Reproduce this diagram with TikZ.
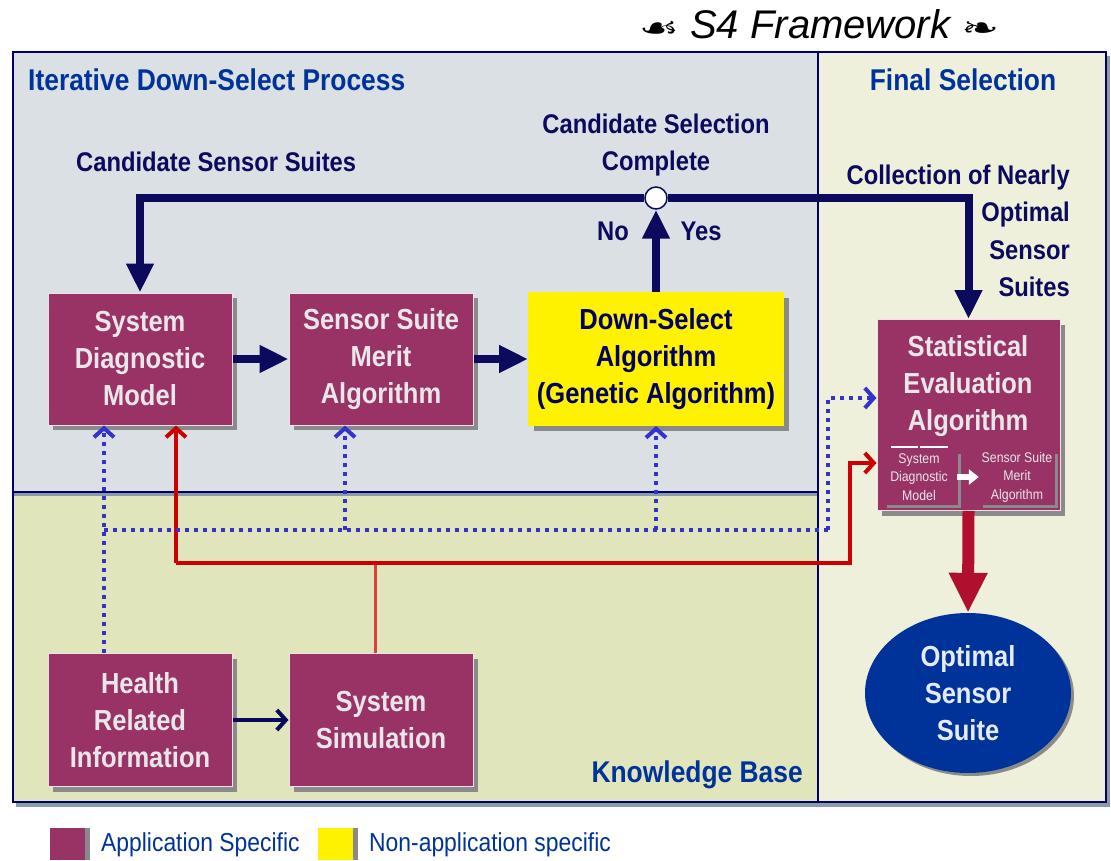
\documentclass[tikz,border=0pt]{standalone}
\usepackage{fontspec}
\setmainfont{Liberation Sans}
\newfontfamily\nf[FakeStretch=0.88]{Liberation Sans}
\newfontfamily\orn[FakeStretch=1.5]{DejaVu Sans}
\usetikzlibrary{arrows.meta,shadows,calc,shapes.geometric}
\definecolor{plum}{HTML}{993366}
\definecolor{navy}{HTML}{0C0A5C}
\definecolor{ttlblue}{HTML}{003399}
\definecolor{dotblue}{HTML}{3333CC}
\definecolor{lnred}{HTML}{CC0000}
\definecolor{thinred}{HTML}{D9413A}
\definecolor{bigred}{HTML}{B0102E}
\definecolor{upperbg}{HTML}{DAE0E4}
\definecolor{lowerbg}{HTML}{E1E5BC}
\definecolor{rightbg}{HTML}{EEF0DB}
\definecolor{frame}{HTML}{000066}
\definecolor{boxtxt}{HTML}{E8E6E8}
\definecolor{ovalbg}{HTML}{003399}
\definecolor{shadowgray}{HTML}{8A8A8A}
\definecolor{edgeshade}{HTML}{8C9BAA}
\begin{document}
\begin{tikzpicture}[x=1pt,y=-1pt,
  panel/.style={draw=frame,line width=2pt},
  boxtext/.style={text=boxtxt,align=center,inner sep=0pt,
    font=\nf\bfseries\fontsize{29}{37}\selectfont},
  appbox/.style={boxtext,fill=plum,draw=white!85!plum,line width=1pt,
    drop shadow={shadow xshift=5pt,shadow yshift=-5pt,fill=shadowgray,opacity=1}},
  genbox/.style={appbox,fill=yellow,draw=yellow,text=frame},
  ptitle/.style={text=ttlblue,font=\nf\bfseries\fontsize{30}{36}\selectfont,inner sep=0pt},
  lbl/.style={text=navy,font=\nf\bfseries\fontsize{27}{37.5}\selectfont,inner sep=0pt},
  small/.style={text=boxtxt,font=\nf\fontsize{14}{18.5}\selectfont,align=center,inner sep=0pt},
  bigflow/.style={draw=navy,line width=8pt,line join=miter,
    -{Triangle[width=26pt,length=29pt]}},
  redflow/.style={draw=lnred,line width=4pt,line join=miter,
    -{Straight Barb[length=9pt,width=20pt,line width=4pt]}},
  dotflow/.style={draw=dotblue,line width=4pt,dash pattern=on 4pt off 5pt,
    -{Straight Barb[length=9pt,width=20pt,line width=4pt]}},
  dotline/.style={draw=dotblue,line width=4pt,dash pattern=on 4pt off 5pt},
  legtxt/.style={text=ttlblue,font=\nf\fontsize{26}{30}\selectfont,inner sep=0pt}
]
\useasboundingbox (0,0) rectangle (1111,861);
\fill[white] (0,0) rectangle (1111,861);

% frame shading and the three panels
\fill[edgeshade] (16,802) rectangle (1110,807);
\fill[edgeshade] (1106,56) rectangle (1110,807);
\filldraw[panel,fill=upperbg] (13,52) rectangle (818,492);
\filldraw[panel,fill=lowerbg] (13,492) rectangle (818,802);
\filldraw[panel,fill=rightbg] (818,52) rectangle (1106,802);
\fill[edgeshade] (14,493) rectangle (817,496);

% heading
\node[font=\itshape\fontsize{40}{44}\selectfont,inner sep=0pt] (head) at (819,24)
  {{\orn\fontsize{30}{30}\selectfont ☙}\ S4 Framework\ {\orn\fontsize{30}{30}\selectfont ❧}};

% panel titles
\node[ptitle,anchor=west] (tIter) at (28,80) {Iterative Down-Select Process};
\node[ptitle] (tFinal) at (963,80) {Final Selection};
\node[ptitle,anchor=east] (tKB) at (803,775) {Knowledge Base};

% process boxes
\node[appbox,minimum width=184pt,minimum height=132pt] (sdm) at (140,359)
  {System\\Diagnostic\\Model};
\node[appbox,minimum width=184pt,minimum height=132pt] (ssma) at (381,359)
  {Sensor Suite\\Merit\\Algorithm};
\node[genbox,minimum width=255pt,minimum height=133pt] (dsa) at (656,359)
  {Down-Select\\Algorithm\\(Genetic Algorithm)};
\node[appbox,minimum width=184pt,minimum height=133pt] (hri) at (140,720)
  {Health\\Related\\Information};
\node[appbox,minimum width=184pt,minimum height=133pt] (sim) at (381,720)
  {System\\Simulation};
\node[appbox,minimum width=183pt,minimum height=191pt] (sea) at (968.5,415) {};
\node[boxtext] (seaT) at (968,386) {Statistical\\Evaluation\\Algorithm};

% sub-models inside the statistical evaluation box
\node[small,minimum width=72pt] (sub1) at (919,477) {System\\Diagnostic\\Model};
\node[small,minimum width=72pt] (sub2) at (1017,477) {Sensor Suite\\Merit\\Algorithm};
\draw[white,line width=1.2pt] (891,447) -- (918,447) (920,447) -- (948,447);
\draw[draw=shadowgray,line width=3pt] (887,506) -- (959,506) -- (959,454);
\draw[draw=shadowgray,line width=3pt] (983,506) -- (1056,506) -- (1056,454);
\draw[white,line width=6pt,-{Triangle[width=15pt,length=10pt]}]
  ($(sub1.east)+(2,0)$) -- ($(sub2.west)+(-2,0)$);

% final result
\node[ellipse,fill=ovalbg,minimum width=206pt,minimum height=160pt,inner sep=0pt,
  text=white!90!ovalbg,align=center,font=\nf\bfseries\fontsize{29}{37}\selectfont,
  drop shadow={shadow xshift=3pt,shadow yshift=-3pt,fill=shadowgray,opacity=1}]
  (opt) at (968,693) {Optimal\\Sensor\\Suite};
\draw[bigred,line width=12pt,-{Triangle[width=36pt,length=40pt]}]
  (sea.south) -- (opt.north);

% decision point and main loop
\node[circle,fill=white,draw=navy,line width=1.5pt,minimum size=22pt,inner sep=0pt]
  (junc) at (656,198) {};
\draw[bigflow] (dsa.north) -- (junc.south);
\draw[bigflow] (junc.west) -| (sdm.north);
\draw[bigflow] (junc.east) -| (sea.north);
\draw[bigflow] (sdm.east) -- (ssma.west);
\draw[bigflow] (ssma.east) -- (dsa.west);
\draw[draw=navy,line width=4pt,-{Straight Barb[length=9pt,width=20pt,line width=4pt]}]
  (hri.east) -- (sim.west);

% loop labels
\node[lbl,anchor=west] (lCand) at (76,162) {Candidate Sensor Suites};
\node[lbl,align=center] (lComp) at (656,145) {Candidate Selection\\Complete};
\node[lbl] (lNo) at (613,231) {No};
\node[lbl] (lYes) at (701,231) {Yes};
\node[lbl,align=right,anchor=east] (lColl) at (1070,231)
  {Collection of Nearly\\Optimal\\Sensor\\Suites};

% simulation feed
\coordinate (rj) at (375,563);
\coordinate (rl) at (176,563);
\coordinate (rr) at (850,563);
\coordinate (rt) at (850,463);
\draw[thinred,line width=3pt] (sim.north -| rj) -- (rj);
\draw[redflow] (rl) -- (rr) -- (rt) -- (sea.west |- rt);
\draw[redflow] (rl) -- (sdm.south -| rl);

% health information feed
\coordinate (bl) at (104,530);
\coordinate (b2) at (345,530);
\coordinate (b3) at (656,530);
\coordinate (br) at (828,530);
\coordinate (bt) at (828,398);
\draw[dotline] (bl) -- (br);
\draw[dotflow] (hri.north -| bl) -- (sdm.south -| bl);
\draw[dotflow] (b2) -- (ssma.south -| b2);
\draw[dotflow] (b3) -- (dsa.south);
\draw[dotflow] (br) -- (bt) -- (sea.west |- bt);

% legend
\node[fill=plum,minimum width=35pt,minimum height=32pt,inner sep=0pt,
  drop shadow={shadow xshift=5pt,shadow yshift=0pt,fill=shadowgray,opacity=1}] (kApp) at (67.5,844) {};
\node[legtxt,anchor=west] (kAppT) at (101,845) {Application Specific};
\node[fill=yellow,minimum width=35pt,minimum height=32pt,inner sep=0pt,
  drop shadow={shadow xshift=5pt,shadow yshift=0pt,fill=shadowgray,opacity=1}] (kGen) at (335.5,844) {};
\node[legtxt,anchor=west] (kGenT) at (369,845) {Non-application specific};
\end{tikzpicture}
\end{document}
